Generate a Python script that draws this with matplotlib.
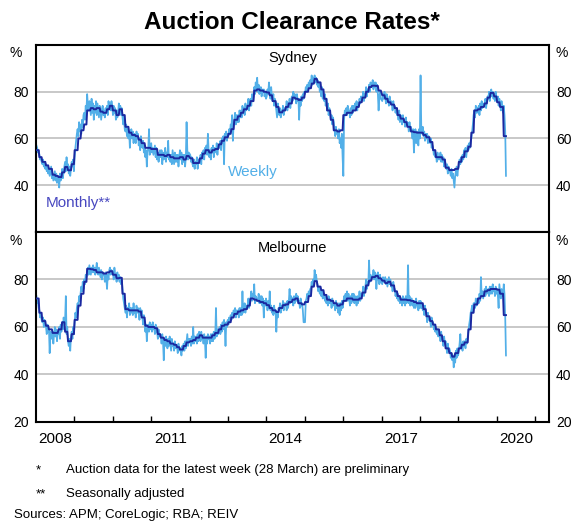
import matplotlib
matplotlib.use("Agg")
import matplotlib.pyplot as plt
import numpy as np
import pandas as pd

plt.rcParams['font.family'] = ['Liberation Sans', 'DejaVu Sans']

# Monthly clearance rates (seasonally adjusted), Jan 2008 - Mar 2020, one row per year
syd_monthly = [
    [55, 52, 50, 48.5, 47, 44.5, 44, 43.5, 45.5, 47.8, 46.4, 49],
    [55, 60, 63.5, 66, 72, 73, 72.5, 73, 71.5, 71, 72.5, 74],
    [72, 70, 72.5, 70, 65, 62.5, 61.5, 61, 59.5, 58, 56, 56],
    [55.5, 55.5, 53, 53, 52.5, 53, 52, 51.5, 51.5, 52, 51, 52.5],
    [51.5, 49.5, 49.5, 51.5, 53.5, 55, 54, 55, 55.5, 57.5, 59, 60.5],
    [62, 64, 68, 69.5, 71, 72.5, 74, 76, 80.5, 81, 80.5, 80],
    [79.7, 78.5, 76, 73.5, 71.2, 72, 73.5, 75, 77.5, 77, 76.5, 77.5],
    [80, 81.5, 83.5, 85.5, 84, 81, 77, 72, 68, 63.5, 63, 63.5],
    [70, 71, 71, 72, 73.5, 75.5, 77.5, 80, 82, 82.6, 82.5, 80.5],
    [78.5, 77, 75.5, 74.5, 73, 70, 68.5, 67, 65, 63, 62.7, 62.5],
    [62.5, 61.5, 60.5, 58.5, 55, 52, 52, 51, 47.5, 46.5, 46.5, 47],
    [50, 52, 54.5, 56.5, 62.5, 72, 72.5, 73.5, 75, 77.5, 79.5, 78],
    [75.5, 73.5, 61],
]
mel_monthly = [
    [72, 66, 62.5, 60.5, 59, 57.5, 57.5, 59, 62, 58, 54, 57],
    [63, 69, 74, 79, 84.5, 84.3, 84, 83, 83, 82.5, 83, 83.5],
    [82, 80.5, 80.7, 74, 67.5, 67, 67, 67, 66.5, 64, 60.5, 60],
    [60, 59.5, 57, 55.5, 54.5, 54, 53, 52.5, 51.5, 50.5, 52, 53.5],
    [54, 54.5, 55.5, 56.5, 55.5, 55.5, 55.5, 56.5, 57.5, 59, 60.5, 61],
    [62, 64, 65.5, 66.5, 67, 67.5, 69, 72, 71.5, 71, 70.5, 70],
    [69.2, 68, 67, 66.3, 68, 69.2, 69.5, 70.5, 71.5, 72, 70, 69.5],
    [70.5, 73, 77, 79.3, 77, 75.5, 73.5, 71.5, 71, 70, 69, 69.5],
    [71, 72, 72, 71.5, 71.5, 72, 74.5, 77.5, 79.5, 81, 81.5, 80.5],
    [79.5, 78.5, 79, 77.5, 75, 73, 71.5, 71.5, 71.3, 71, 70.5, 70],
    [70, 67.5, 64.5, 62.5, 61, 59, 56.5, 54, 51, 49, 47.5, 49],
    [51, 52.5, 53.5, 59, 66, 69.5, 72, 73, 75, 75.5, 76, 76],
    [75.7, 74, 65],
]

# Weekly clearance rates, one row per year (Saturdays from the first week of January)
syd_weekly = [
    [57, 56, 54, 55, 53, 51, 52, 50, 49, 51, 48, 50, 47, 49, 46, 48, 45, 47, 44, 46, 48, 43, 45, 42, 44, 46,
     42, 45, 41, 44, 43, 39, 45, 42, 44, 47, 43, 46, 48, 50, 46, 52, 47, 49, 45, 48, 44, 47, 50, 48, 51, 46],
    [52, 56, 59, 62, 64, 61, 67, 63, 66, 62, 68, 65, 70, 71, 68, 74, 72, 79, 74, 72, 76, 73, 70, 77, 71, 75,
     68, 74, 71, 76, 70, 75, 72, 69, 74, 73, 68, 71, 74, 70, 72, 69, 73, 71, 74, 70, 76, 73, 75, 72, 76, 74],
    [70, 74, 71, 73, 68, 72, 69, 71, 75, 71, 74, 70, 73, 69, 66, 70, 64, 63, 66, 61, 64, 60, 63, 56, 62, 64,
     60, 63, 58, 62, 61, 58, 63, 60, 62, 57, 60, 55, 61, 58, 56, 59, 54, 57, 52, 55, 48, 54, 56, 64, 53, 57],
    [58, 54, 56, 53, 55, 57, 52, 56, 51, 54, 50, 53, 55, 52, 55, 49, 54, 51, 53, 56, 50, 54, 52, 59, 51, 53,
     50, 53, 49, 55, 52, 49, 54, 50, 53, 50, 53, 48, 52, 55, 51, 54, 49, 53, 50, 53, 48, 52, 67, 55, 51, 54],
    [53, 50, 52, 49, 48, 51, 47, 50, 49, 52, 47, 50, 51, 50, 53, 49, 54, 52, 55, 51, 56, 54, 57, 53, 62, 55,
     52, 55, 51, 56, 54, 57, 52, 56, 55, 54, 58, 53, 57, 56, 56, 59, 55, 60, 58, 61, 49, 62, 60, 63, 59, 62],
    [61, 64, 62, 66, 65, 70, 59, 66, 68, 71, 66, 70, 67, 70, 67, 72, 69, 72, 69, 74, 71, 73, 70, 75, 72, 74,
     74, 77, 72, 76, 77, 74, 79, 76, 78, 82, 79, 84, 81, 86, 80, 83, 79, 81, 82, 78, 81, 80, 81, 78, 80, 77],
    [78, 81, 79, 84, 80, 77, 82, 78, 76, 79, 74, 77, 75, 72, 69, 75, 71, 70, 73, 69, 72, 71, 74, 70, 73, 72,
     73, 76, 72, 75, 74, 77, 73, 76, 78, 76, 80, 77, 79, 78, 75, 79, 76, 77, 68, 77, 74, 78, 76, 79, 77, 80],
    [79, 82, 80, 83, 81, 84, 82, 85, 84, 87, 83, 86, 85, 87, 84, 86, 83, 85, 82, 84, 80, 81, 78, 82, 77, 79,
     76, 79, 74, 77, 72, 75, 70, 73, 71, 68, 70, 66, 69, 67, 64, 61, 65, 62, 63, 60, 64, 58, 60, 56, 62, 52],
    [44, 68, 72, 70, 73, 70, 74, 71, 72, 69, 73, 70, 74, 71, 74, 72, 75, 73, 76, 72, 75, 74, 77, 75, 78, 76,
     77, 80, 76, 79, 79, 82, 78, 81, 80, 83, 80, 84, 82, 83, 85, 81, 84, 82, 84, 80, 83, 79, 72, 78, 80, 77],
    [76, 79, 77, 80, 78, 75, 79, 76, 77, 74, 78, 75, 76, 75, 72, 76, 73, 74, 71, 73, 70, 71, 68, 72, 67, 70,
     69, 66, 70, 67, 68, 65, 69, 66, 67, 66, 63, 67, 64, 65, 63, 60, 64, 54, 61, 64, 58, 63, 62, 57, 64, 60],
    [87, 64, 62, 65, 61, 63, 59, 62, 60, 62, 58, 61, 59, 58, 60, 56, 57, 56, 53, 55, 52, 53, 50, 54, 51, 52,
     51, 54, 50, 53, 50, 52, 48, 51, 49, 47, 49, 45, 48, 46, 46, 44, 47, 43, 45, 42, 39, 44, 46, 48, 44, 47],
    [48, 51, 49, 52, 50, 53, 51, 55, 53, 56, 52, 55, 57, 55, 58, 56, 59, 60, 63, 66, 70, 72, 69, 74, 71, 73,
     71, 74, 70, 75, 72, 76, 73, 75, 74, 74, 77, 73, 76, 78, 77, 80, 76, 79, 81, 78, 80, 77, 79, 76, 80, 77],
    [76, 78, 74, 77, 75, 72, 76, 73, 71, 74, 70, 63, 44],
]
mel_weekly = [
    [73, 70, 71, 68, 67, 64, 66, 63, 62, 64, 60, 63, 61, 60, 57, 61, 58, 59, 49, 58, 56, 55, 58, 53, 57, 60,
     56, 59, 54, 58, 57, 60, 55, 61, 58, 62, 59, 64, 61, 63, 73, 57, 60, 54, 52, 55, 50, 56, 58, 55, 60, 57],
    [62, 66, 64, 68, 70, 68, 73, 71, 74, 77, 75, 79, 76, 80, 78, 82, 81, 83, 85, 82, 86, 84, 82, 85, 83, 86,
     83, 85, 82, 84, 87, 84, 82, 85, 83, 81, 84, 80, 83, 82, 82, 79, 83, 80, 76, 82, 80, 84, 85, 82, 84, 83],
    [83, 80, 85, 82, 81, 79, 83, 80, 82, 79, 81, 78, 80, 76, 72, 70, 68, 66, 69, 64, 68, 67, 70, 65, 68, 66,
     68, 65, 70, 66, 67, 64, 69, 66, 68, 66, 63, 68, 65, 67, 64, 61, 65, 62, 58, 61, 54, 59, 61, 58, 62, 59],
    [61, 58, 62, 59, 60, 57, 61, 58, 58, 55, 59, 56, 57, 56, 53, 57, 54, 46, 55, 52, 56, 54, 51, 55, 52, 56,
     53, 50, 55, 52, 53, 50, 54, 51, 52, 52, 49, 53, 50, 51, 51, 48, 52, 50, 53, 50, 54, 51, 54, 57, 52, 55],
    [55, 52, 56, 53, 60, 53, 56, 54, 56, 53, 57, 54, 58, 57, 54, 58, 55, 56, 53, 57, 54, 47, 56, 53, 57, 55,
     56, 53, 57, 54, 57, 54, 58, 55, 56, 68, 56, 59, 57, 58, 60, 57, 61, 58, 62, 59, 63, 60, 52, 62, 60, 63],
    [61, 64, 62, 65, 63, 66, 64, 67, 65, 68, 64, 67, 66, 67, 64, 68, 65, 68, 65, 75, 66, 67, 70, 66, 69, 68,
     69, 72, 68, 71, 72, 75, 71, 74, 73, 78, 70, 73, 71, 72, 71, 74, 70, 73, 70, 73, 69, 72, 64, 71, 69, 72],
    [70, 67, 71, 68, 75, 67, 69, 66, 68, 65, 69, 66, 67, 58, 66, 64, 68, 67, 70, 66, 69, 68, 71, 67, 70, 69,
     70, 67, 71, 68, 71, 76, 70, 73, 72, 72, 69, 73, 70, 71, 74, 71, 73, 70, 71, 68, 72, 69, 70, 67, 62, 62],
    [62, 71, 72, 74, 72, 75, 73, 76, 76, 79, 77, 80, 78, 84, 80, 82, 79, 78, 75, 77, 74, 76, 73, 75, 72, 74,
     74, 71, 73, 70, 72, 69, 73, 70, 71, 71, 68, 72, 69, 70, 70, 67, 71, 68, 69, 66, 70, 65, 70, 67, 71, 68],
    [70, 73, 71, 74, 72, 75, 71, 74, 72, 69, 73, 70, 74, 71, 74, 70, 73, 72, 69, 73, 70, 72, 75, 71, 74, 73,
     74, 77, 73, 76, 77, 80, 76, 79, 78, 88, 79, 82, 80, 81, 81, 84, 80, 83, 82, 76, 81, 83, 80, 78, 82, 79],
    [78, 81, 79, 80, 81, 78, 80, 77, 79, 81, 78, 80, 77, 78, 75, 79, 76, 76, 73, 75, 72, 74, 71, 73, 70, 72,
     72, 69, 73, 70, 72, 69, 73, 70, 71, 86, 70, 73, 69, 72, 72, 69, 71, 68, 71, 68, 72, 69, 70, 67, 71, 68],
    [71, 68, 70, 67, 68, 65, 69, 66, 65, 62, 66, 63, 64, 63, 60, 64, 61, 62, 59, 61, 58, 60, 57, 59, 56, 58,
     57, 54, 58, 55, 55, 52, 56, 53, 54, 52, 49, 53, 50, 51, 50, 47, 49, 46, 48, 43, 47, 45, 50, 47, 51, 48],
    [50, 53, 57, 51, 53, 50, 54, 52, 54, 51, 55, 53, 56, 58, 61, 63, 66, 67, 69, 66, 70, 70, 68, 72, 69, 71,
     72, 70, 74, 71, 81, 73, 75, 72, 74, 76, 73, 77, 74, 75, 76, 73, 77, 74, 77, 74, 78, 75, 76, 73, 77, 74],
    [76, 73, 68, 78, 75, 72, 76, 73, 74, 78, 74, 64, 48],
]

first_year = 2008
tick_years = [2008, 2011, 2014, 2017, 2020]

dark_blue = '#1a28a0'
light_blue = '#52afe8'


def frac_year(dates):
    days = np.where(dates.is_leap_year, 366, 365)
    return dates.year + (dates.dayofyear - 0.5) / days


def weekly_dates(rows):
    out = []
    for i, row in enumerate(rows):
        y = first_year + i
        sats = pd.date_range(f'{y}-01-01', f'{y}-12-31', freq='W-SAT')[:len(row)]
        out.append(sats)
    return out


def build(weekly_rows, monthly_rows):
    dates = weekly_dates(weekly_rows)
    all_dates = dates[0].append(dates[1:])
    wk = np.concatenate([np.array(r, dtype=float) for r in weekly_rows])
    # monthly values held over the weeks of each month
    mo = np.array([monthly_rows[d.year - first_year][d.month - 1] for d in all_dates], dtype=float)
    return frac_year(all_dates), wk, mo


fig = plt.figure(figsize=(5.72, 5.22), dpi=100)
ax1 = fig.add_axes([0.0629, 0.5556, 0.8969, 0.3582])
ax2 = fig.add_axes([0.0629, 0.1916, 0.8969, 0.3640])

panels = [(ax1, 'Sydney', syd_weekly, syd_monthly, [40, 60, 80], 0.93),
          (ax2, 'Melbourne', mel_weekly, mel_monthly, [20, 40, 60, 80], 0.915)]

for ax, name, wrows, mrows, yt, ty in panels:
    x, wk, mo = build(wrows, mrows)
    for g in [40, 60, 80]:
        ax.axhline(g, color='#c4c4c4', lw=1.3, zorder=0)
    ax.plot(x, wk, color=light_blue, lw=1.25, zorder=2)
    ax.plot(x, mo, color=dark_blue, lw=1.4, zorder=3)
    ax.set_xlim(2008.0, 2021.36)
    ax.set_ylim(20, 100)
    ax.set_yticks(yt)
    ax.tick_params(axis='y', length=0, labelleft=True, labelright=True, labelsize=10, pad=5)
    for s in ax.spines.values():
        s.set_linewidth(1.5)
    ax.text(0.5, ty, name, transform=ax.transAxes, ha='center', va='center', fontsize=10.5)
    ax.text(-0.027, 0.955, '%', transform=ax.transAxes, ha='right', va='center', fontsize=10)
    ax.text(1.012, 0.955, '%', transform=ax.transAxes, ha='left', va='center', fontsize=10)

ax1.set_xticks([])
ax2.set_xticks(np.arange(2009, 2022))
ax2.set_xticks([y + 0.5 for y in tick_years], minor=True)
ax2.set_xticklabels(tick_years, minor=True)
ax2.tick_params(axis='x', which='major', direction='in', length=4, width=1, labelbottom=False)
ax2.tick_params(axis='x', which='minor', length=0, labelsize=11, pad=7)

ax1.text(2013.0, 45.5, 'Weekly', color=light_blue, fontsize=11, ha='left', va='center')
ax1.text(2008.25, 32.3, 'Monthly**', color='#4848c0', fontsize=11, ha='left', va='center')

fig.text(0.51, 0.956, 'Auction Clearance Rates*', ha='center', va='center',
         fontsize=17.5, fontweight='bold')

fig.text(0.063, 0.0996, '*', ha='left', va='center', fontsize=9.5)
fig.text(0.115, 0.0996, 'Auction data for the latest week (28 March) are preliminary',
         ha='left', va='center', fontsize=9.5)
fig.text(0.063, 0.0536, '**', ha='left', va='center', fontsize=9.5)
fig.text(0.115, 0.0536, 'Seasonally adjusted', ha='left', va='center', fontsize=9.5)
fig.text(0.0245, 0.0125, 'Sources: APM; CoreLogic; RBA; REIV', ha='left', va='center', fontsize=9.5)

fig.savefig('out.png', dpi=100)
